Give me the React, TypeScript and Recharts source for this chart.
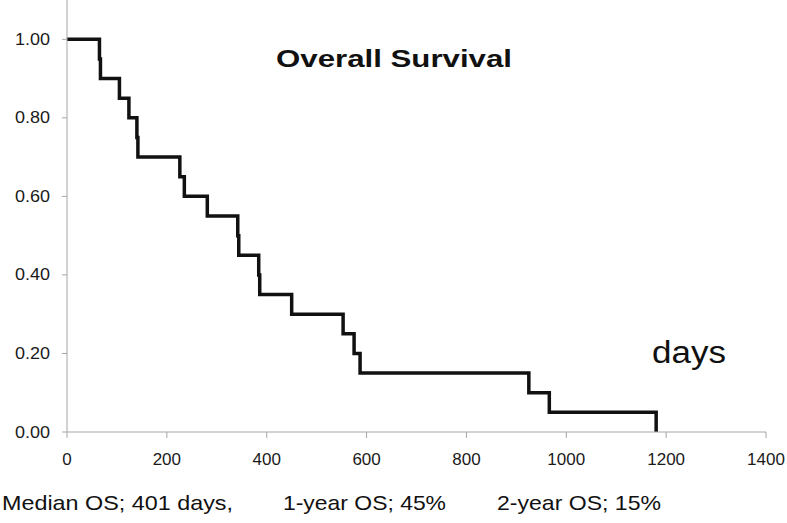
import React from "react";
import { LineChart, Line, XAxis, YAxis } from "recharts";

// Kaplan-Meier survival estimate (days, survival proportion)
const days = [0, 65, 67, 105, 124, 140, 142, 226, 235, 281, 342, 344, 384, 386, 450, 553, 575, 587, 925, 966, 1180];
const survival = [1.0, 0.95, 0.9, 0.85, 0.8, 0.75, 0.7, 0.65, 0.6, 0.55, 0.5, 0.45, 0.4, 0.35, 0.3, 0.25, 0.2, 0.15, 0.1, 0.05, 0.0];
const xTicks = [0, 200, 400, 600, 800, 1000, 1200, 1400];
const yTicks = [0, 0.2, 0.4, 0.6, 0.8, 1.0];
const title = "Overall Survival";
const xUnit = "days";
const summary = ["Median OS; 401 days,", "1-year OS; 45%", "2-year OS; 15%"];

const data = days.map((d, i) => ({ day: d, s: survival[i] }));

const FONT = "'Liberation Sans', Arial, sans-serif";

const XTick = (props: any) => {
  const { x, y, payload } = props;
  return (
    <text x={x} y={y} textAnchor="middle" dominantBaseline="central" fontFamily={FONT} fontSize={17} fill="#1a1a1a">
      {payload.value}
    </text>
  );
};

const YTick = (props: any) => {
  const { x, y, payload } = props;
  return (
    <text x={x} y={y} textAnchor="end" dominantBaseline="central" fontFamily={FONT} fontSize={16} fill="#1a1a1a" textLength={35} lengthAdjust="spacingAndGlyphs">
      {Number(payload.value).toFixed(2)}
    </text>
  );
};

export default function App() {
  return (
    <div style={{ position: "absolute", left: 0, top: 0, width: 787, height: 523, background: "#fff" }}>
      <LineChart width={787} height={523} data={data} margin={{ top: 0, right: 21, bottom: 0, left: 0 }}>
        <XAxis
          dataKey="day"
          type="number"
          domain={[0, 1400]}
          ticks={xTicks}
          height={91}
          stroke="#a6a6a6"
          tickSize={6}
          tickMargin={21}
          tick={<XTick />}
          allowDataOverflow
        />
        <YAxis
          type="number"
          domain={[0, 1.1]}
          ticks={yTicks}
          width={67}
          stroke="#a6a6a6"
          tickSize={5}
          tickMargin={12}
          tick={<YTick />}
          allowDataOverflow
        />
        <Line
          type="stepAfter"
          dataKey="s"
          stroke="#111"
          strokeWidth={3.5}
          dot={false}
          isAnimationActive={false}
          strokeLinejoin="miter"
          strokeLinecap="butt"
        />
      </LineChart>
      <svg width={787} height={523} style={{ position: "absolute", left: 0, top: 0, pointerEvents: "none" }}>
        <text x={276} y={67} fontFamily={FONT} fontWeight="bold" fontSize={24} fill="#111" textLength={236} lengthAdjust="spacingAndGlyphs">
          {title}
        </text>
        <text x={652} y={363} fontFamily={FONT} fontSize={31} fill="#111" textLength={74} lengthAdjust="spacingAndGlyphs">
          {xUnit}
        </text>
        <text x={2} y={510} fontFamily={FONT} fontSize={21} fill="#111" textLength={231} lengthAdjust="spacingAndGlyphs">
          {summary[0]}
        </text>
        <text x={283} y={510} fontFamily={FONT} fontSize={21} fill="#111" textLength={163} lengthAdjust="spacingAndGlyphs">
          {summary[1]}
        </text>
        <text x={497} y={510} fontFamily={FONT} fontSize={21} fill="#111" textLength={164} lengthAdjust="spacingAndGlyphs">
          {summary[2]}
        </text>
      </svg>
    </div>
  );
}
